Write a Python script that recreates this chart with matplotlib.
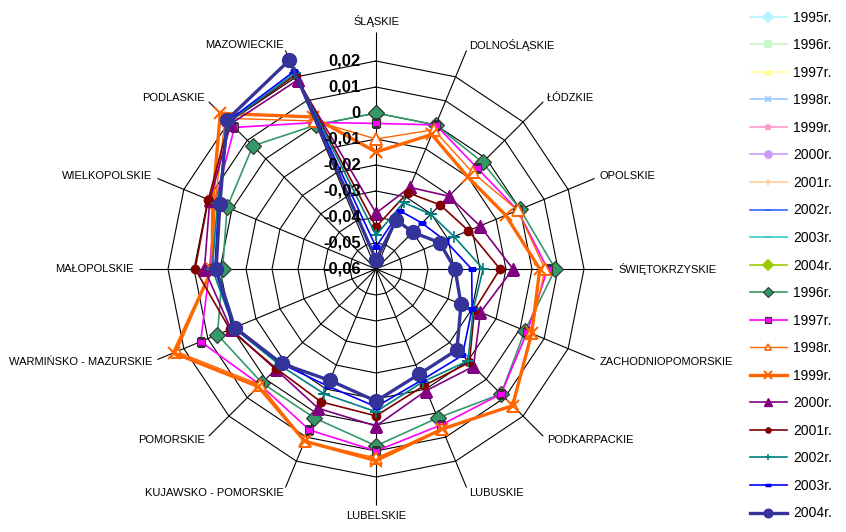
import numpy as np
import matplotlib
matplotlib.use('Agg')
from matplotlib import pyplot as plt
from matplotlib.lines import Line2D

plt.rcParams['font.family'] = ['Liberation Sans', 'DejaVu Sans']

regions = ['ŚLĄSKIE', 'DOLNOŚLĄSKIE', 'ŁÓDZKIE', 'OPOLSKIE', 'ŚWIĘTOKRZYSKIE',
           'ZACHODNIOPOMORSKIE', 'PODKARPACKIE', 'LUBUSKIE', 'LUBELSKIE',
           'KUJAWSKO - POMORSKIE', 'POMORSKIE', 'WARMIŃSKO - MAZURSKIE',
           'MAŁOPOLSKIE', 'WIELKOPOLSKIE', 'PODLASKIE', 'MAZOWIECKIE']

r_ticks = [-0.06, -0.05, -0.04, -0.03, -0.02, -0.01, 0.0, 0.01, 0.02]
r_tick_labels = ['-0,06', '-0,05', '-0,04', '-0,03', '-0,02', '-0,01', '0', '0,01', '0,02']

y1996 = [0.000, 0.000, -0.002, 0.000, 0.009, 0.002, 0.008, 0.002, 0.008, 0.002, 0.002, 0.006, -0.001, 0.002, 0.007, 0.000]
y1997 = [-0.004, 0.000, -0.005, -0.001, 0.006, 0.003, 0.008, 0.005, 0.010, 0.007, 0.003, 0.013, 0.004, 0.007, 0.017, 0.001]
y1998 = [-0.010, -0.002, -0.0075, -0.001, 0.005, 0.0045, 0.0145, 0.0065, 0.0127, 0.0117, 0.003, 0.023, 0.003, 0.007, 0.022, 0.0016]
y1999 = [-0.015, -0.004, -0.010, -0.006, 0.003, 0.0048, 0.0143, 0.0066, 0.0137, 0.0117, 0.004, 0.0243, 0.003, 0.008, 0.0247, 0.0033]
y2000 = [-0.0385, -0.026, -0.0204, -0.0167, -0.0073, -0.0165, -0.007, -0.0094, 0.0004, -0.002, -0.0054, 0.0004, 0.006, 0.0092, 0.019, 0.0187]
y2001 = [-0.0438, -0.0282, -0.0251, -0.0215, -0.0123, -0.019, -0.0092, -0.0115, -0.0035, -0.0047, -0.0058, 0.0008, 0.0096, 0.0098, 0.020, 0.0208]
y2002 = [-0.047, -0.0323, -0.0302, -0.0275, -0.0188, -0.0195, -0.010, -0.013, -0.0051, -0.008, -0.0077, -0.0008, 0.003, 0.006, 0.020, 0.0215]
y2003 = [-0.0515, -0.0358, -0.035, -0.0313, -0.0232, -0.020, -0.013, -0.0138, -0.007, -0.0113, -0.0085, -0.0008, 0.002, 0.0055, 0.0205, 0.0223]
y2004 = [-0.0565, -0.0396, -0.040, -0.0335, -0.0296, -0.0246, -0.016, -0.0163, -0.0092, -0.0136, -0.0086, -0.0012, 0.0015, 0.005, 0.0211, 0.027]

# series that are only in the legend (first set, 1995-2004)
ghost_years = ['1995r.', '1996r.', '1997r.', '1998r.', '1999r.', '2000r.', '2001r.', '2002r.', '2003r.', '2004r.']
ghost_style = [('#b3f2ff', 'D'), ('#c6f7c6', 's'), ('#ffff99', '^'), ('#99ccff', 'x'), ('#ff99cc', '*'),
               ('#cc99ff', 'o'), ('#ffcc99', '+'), ('#3366ff', '_'), ('#33cccc', '_'), ('#99cc00', 'D')]

series = [
    ('1996r.', y1996, dict(color='#339966', lw=1.2, marker='D', ms=8, mfc='#339966', mec='#333333', mew=0.8)),
    ('1997r.', y1997, dict(color='#ff00ff', lw=1.2, marker='s', ms=6, mfc='#ff00ff', mec='#333333', mew=0.8)),
    ('1998r.', y1998, dict(color='#ff6600', lw=1.0, marker='^', ms=8, mfc='white', mec='#ff6600', mew=1.2)),
    ('1999r.', y1999, dict(color='#ff6600', lw=2.4, marker='x', ms=9, mec='#ff6600', mew=1.5)),
    ('2000r.', y2000, dict(color='#800080', lw=1.2, marker='^', ms=9, mfc='#800080', mec='#800080')),
    ('2001r.', y2001, dict(color='#800000', lw=1.2, marker='o', ms=6, mfc='#800000', mec='#800000')),
    ('2002r.', y2002, dict(color='#008080', lw=1.2, marker='+', ms=8, mec='#008080', mew=1.2)),
    ('2003r.', y2003, dict(color='#0000ff', lw=1.2, marker='_', ms=6, mec='#0000ff', mew=2.5)),
    ('2004r.', y2004, dict(color='#333399', lw=2.4, marker='o', ms=10, mfc='#333399', mec='#333399')),
]

n = len(regions)
theta = np.arange(n) * 2 * np.pi / n
r_min, r_max, r_spoke = -0.06, 0.031, 0.031

fig = plt.figure(figsize=(8.46, 5.32), dpi=100)
ax = fig.add_axes([0.1648, 0.0496, 0.5593, 0.8895], projection='polar')
ax.set_theta_zero_location('N')
ax.set_theta_direction(-1)
ax.set_ylim(r_min, r_max)
ax.axis('off')

# polygon grid + spokes
closed = np.append(theta, theta[0])
for v in r_ticks[1:]:
    ax.plot(closed, [v] * (n + 1), color='black', lw=0.8, zorder=1)
for t in theta:
    ax.plot([t, t], [r_min, r_spoke], color='black', lw=0.8, zorder=1)

for name, vals, st in series:
    ax.plot(closed, vals + vals[:1], zorder=3, **st)

# radial labels
for v, lab in zip(r_ticks, r_tick_labels):
    ax.annotate(lab, xy=(0, v), xytext=(-11, 0), textcoords='offset points',
                ha='right', va='center', fontsize=12, fontweight='bold', zorder=5)

# category labels
for t, name in zip(theta, regions):
    s, c = np.sin(t), np.cos(t)
    if abs(s) < 0.01:
        ha = 'center'
        va = 'bottom' if c > 0 else 'top'
    else:
        ha = 'left' if s > 0 else 'right'
        va = 'center'
    ax.annotate(name, xy=(t, r_spoke), xytext=(4 * s, 4 * c), textcoords='offset points',
                ha=ha, va=va, fontsize=8, annotation_clip=False)

# legend (markers drawn smaller, like in the original)
handles = []
labels = []
for yr, (col, mk) in zip(ghost_years, ghost_style):
    handles.append(Line2D([], [], color=col, lw=1.2, marker=mk, ms=5, mfc=col, mec=col, mew=1.3))
    labels.append(yr)
for name, vals, st in series:
    st2 = dict(st)
    st2['ms'] = st['ms'] * 0.62
    handles.append(Line2D([], [], **st2))
    labels.append(name)

fig.legend(handles, labels, loc='upper left', bbox_to_anchor=(0.886, 0.980), frameon=False,
           fontsize=10, handlelength=2.7, handletextpad=0.45, labelspacing=0.975,
           borderaxespad=0, borderpad=0, numpoints=1)

fig.savefig('out.png', dpi=100)
